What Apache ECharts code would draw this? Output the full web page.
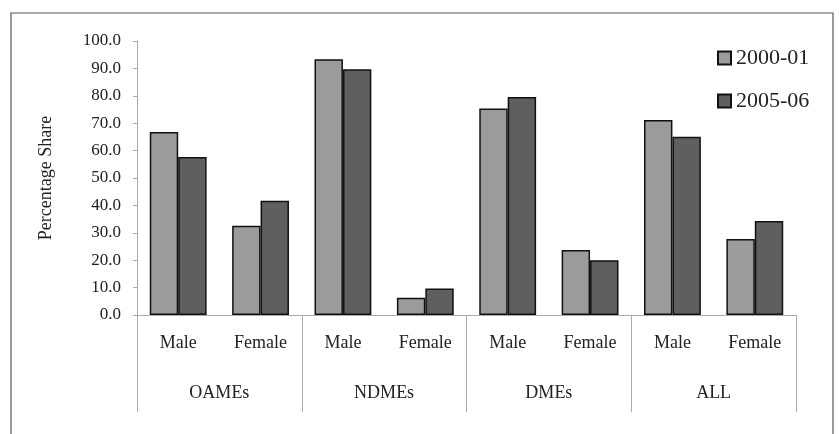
<!DOCTYPE html>
<html>
<head>
<meta charset="utf-8">
<script src="https://cdn.jsdelivr.net/npm/echarts@6/dist/echarts.min.js"></script>
<style>html,body{margin:0;padding:0;background:#fff}#c{width:839px;height:434px}</style>
</head>
<body>
<div id="c"></div>
<script>
const subCategories = ['Male','Female','Male','Female','Male','Female','Male','Female'];
const groups = ['OAMEs','NDMEs','DMEs','ALL'];
const series2000 = [66.8, 32.6, 93.3, 6.3, 75.4, 23.7, 71.2, 27.7];
const series2005 = [57.7, 41.7, 89.7, 9.7, 79.6, 20.0, 65.1, 34.3];
const seriesNames = ['2000-01','2005-06'];
const yTicks = {min:0, max:100, interval:10};

const font = 'Liberation Serif, Times New Roman, serif';
const chart = echarts.init(document.getElementById('c'));
chart.setOption({
  backgroundColor:'#fff',
  animation:false,
  textStyle:{fontFamily:font, color:'#222'},
  graphic:[{type:'rect', shape:{x:11,y:13,width:822,height:440}, style:{fill:'none', stroke:'#555', lineWidth:1.2}, silent:true, z:-1}],
  legend:{
    orient:'vertical', left:712, top:42, itemWidth:13, itemHeight:13, itemGap:21, icon:'rect',
    textStyle:{fontFamily:font, fontSize:22, color:'#222'},
    data:seriesNames
  },
  grid:{left:137, right:43, top:41, bottom:119},
  xAxis:[
    {type:'category', data:subCategories, position:'bottom',
     axisLine:{show:true, lineStyle:{color:'#aaa', width:1}},
     axisTick:{show:false},
     axisLabel:{margin:19, fontFamily:font, fontSize:18, color:'#222'}},
    {type:'category', data:groups, position:'bottom',
     axisLine:{show:false},
     axisTick:{show:true, length:97, lineStyle:{color:'#aaa', width:1}},
     axisLabel:{margin:69, fontFamily:font, fontSize:18, color:'#222'}}
  ],
  yAxis:{type:'value', min:yTicks.min, max:yTicks.max, interval:yTicks.interval,
    name:'Percentage Share', nameLocation:'middle', nameGap:82, nameRotate:90,
    nameTextStyle:{fontFamily:font, fontSize:18, color:'#222'},
    axisLine:{show:true, lineStyle:{color:'#aaa', width:1}},
    axisTick:{show:true, length:4, lineStyle:{color:'#aaa'}},
    splitLine:{show:false},
    axisLabel:{margin:16, fontFamily:font, fontSize:17, color:'#222', formatter:v=>v.toFixed(1)}},
  series:[
    {name:seriesNames[0], type:'bar', data:series2000, barGap:'0%', barCategoryGap:'31%',
     itemStyle:{color:'#9b9b9b', borderColor:'#111', borderWidth:1.5}},
    {name:seriesNames[1], type:'bar', data:series2005,
     itemStyle:{color:'#5f5f5f', borderColor:'#111', borderWidth:1.5}}
  ]
});
</script>
</body>
</html>
